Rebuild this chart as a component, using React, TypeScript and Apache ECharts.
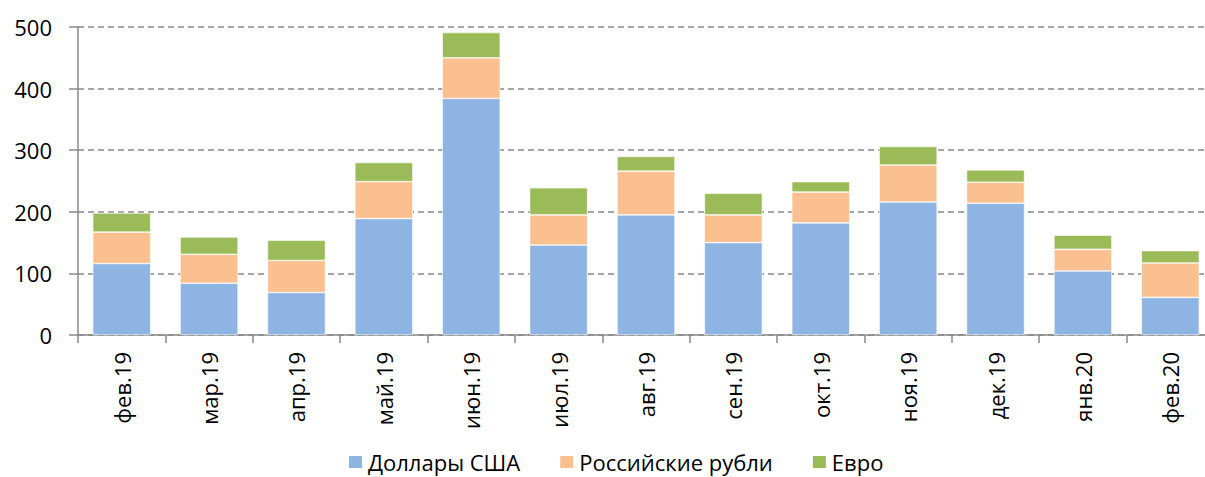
import React, { useEffect, useRef } from "react";
import * as echarts from "echarts";

const categories = ["фев.19", "мар.19", "апр.19", "май.19", "июн.19", "июл.19", "авг.19", "сен.19", "окт.19", "ноя.19", "дек.19", "янв.20", "фев.20"];
const usd = [116, 84, 69, 189, 384, 146, 195, 150, 182, 216, 214, 104, 61];
const rub = [51, 47, 52, 60, 66, 49, 71, 45, 50, 60, 34, 35, 56];
const eur = [31, 28, 33, 31, 41, 44, 24, 35, 17, 30, 20, 23, 20];
const seriesNames = ["Доллары США", "Российские рубли", "Евро"];
const colors = ["#8EB4E3", "#FAC090", "#9BBB59"];

const FONT = "'Open Sans', 'Liberation Sans', sans-serif";

export default function App() {
  const ref = useRef<HTMLDivElement>(null);
  useEffect(() => {
    if (!ref.current) return;
    const chart = echarts.init(ref.current, undefined, { renderer: "svg" });
    const data = [usd, rub, eur];
    chart.setOption({
      animation: false,
      textStyle: { fontFamily: FONT },
      grid: { left: 78, right: 6, top: 27, height: 308, containLabel: false },
      legend: {
        top: 451,
        left: 347,
        padding: 0,
        itemWidth: 15,
        itemHeight: 14,
        itemGap: 38,
        icon: "rect",
        textStyle: { fontSize: 22, color: "#000", fontFamily: FONT },
        data: seriesNames,
      },
      xAxis: {
        type: "category",
        data: categories,
        axisLine: { lineStyle: { color: "#888", width: 1.5 } },
        axisTick: { show: true, length: 8, lineStyle: { color: "#888", width: 1.5 } },
        axisLabel: { rotate: 90, fontSize: 22, color: "#000", margin: 17, fontFamily: FONT },
      },
      yAxis: {
        type: "value",
        min: 0,
        max: 500,
        interval: 100,
        axisLine: { show: true, lineStyle: { color: "#888", width: 1.5 } },
        axisTick: { show: true, length: 9, lineStyle: { color: "#888", width: 1.5 } },
        axisLabel: { fontSize: 22, color: "#000", margin: 26, fontFamily: FONT },
        splitLine: { lineStyle: { color: "#888", width: 1.5, type: [6, 4] } },
      },
      series: seriesNames.map((name, i) => ({
        name,
        type: "bar",
        stack: "total",
        barWidth: 58,
        data: data[i],
        itemStyle: { color: colors[i], borderColor: "#fff", borderWidth: 0.6 },
      })),
    });
    return () => chart.dispose();
  }, []);
  return (
    <div style={{ position: "absolute", left: 0, top: 0, width: 1205, height: 477, overflow: "hidden" }}>
      <div ref={ref} style={{ width: 1220, height: 477 }} />
    </div>
  );
}
